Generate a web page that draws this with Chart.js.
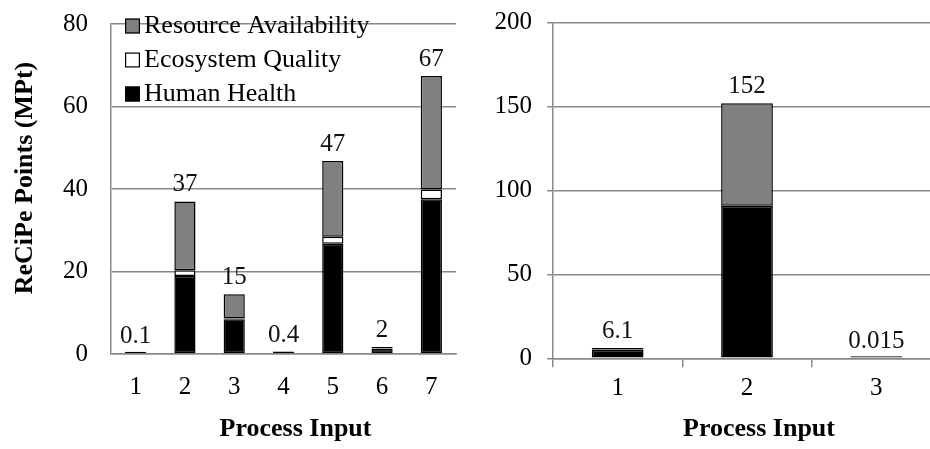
<!DOCTYPE html>
<html>
<head>
<meta charset="utf-8">
<script src="https://cdn.jsdelivr.net/npm/chart.js@4/dist/chart.umd.min.js"></script>
<style>
  html, body { margin: 0; padding: 0; background: #fff; overflow: hidden; width: 930px; height: 449px; }
  #left { position: absolute; left: 0; top: 0; }
  #right { position: absolute; left: 470px; top: 0; }
</style>
</head>
<body>
<canvas id="left" width="470" height="449"></canvas>
<canvas id="right" width="475" height="449"></canvas>
<script>
// ReCiPe endpoint scores (MPt) per process input
const leftCategories = ['1', '2', '3', '4', '5', '6', '7'];
const leftHumanHealth = [0.06, 18.9, 8.4, 0.3, 26.7, 1.3, 37.5];
const leftEcosystemQuality = [0.005, 1.4, 0.2, 0.02, 1.7, 0.1, 2.4];
const leftResourceAvailability = [0.035, 16.7, 5.9, 0.08, 18.4, 0.3, 27.5];
const leftTotalLabels = ['0.1', '37', '15', '0.4', '47', '2', '67'];
const leftTicks = [0, 20, 40, 60, 80];

const rightCategories = ['1', '2', '3'];
const rightHumanHealth = [5.0, 90.8, 0.01];
const rightEcosystemQuality = [0.2, 0.1, 0.001];
const rightResourceAvailability = [0.9, 61.1, 0.004];
const rightTotalLabels = ['6.1', '152', '0.015'];
const rightTicks = [0, 50, 100, 150, 200];

const FONT = "'Liberation Serif', 'Times New Roman', serif";
const GRID = '#8a8a8a';

function stackedSets(hh, eq, ra) {
  const base = { borderColor: '#000', borderWidth: 1.5, borderSkipped: false, stack: 'total' };
  return [
    { ...base, label: 'Human Health', data: hh, backgroundColor: '#000000', minBarLength: 2 },
    { ...base, label: 'Ecosystem Quality', data: eq, backgroundColor: '#ffffff' },
    { ...base, label: 'Resource Availability', data: ra, backgroundColor: '#808080' }
  ];
}

// total value printed above each stacked column
const totalsPlugin = {
  id: 'totals',
  afterDatasetsDraw(chart, args, opts) {
    const { ctx, scales: { x, y } } = chart;
    ctx.save();
    ctx.font = '25px ' + FONT;
    ctx.fillStyle = '#111';
    ctx.textAlign = 'center';
    ctx.textBaseline = 'middle';
    opts.labels.forEach((text, i) => {
      const sum = chart.data.datasets.reduce((s, d) => s + d.data[i], 0);
      ctx.fillText(text, x.getPixelForValue(i), y.getPixelForValue(sum) - 17);
    });
    ctx.restore();
  }
};

// boxed legend inside the plot, top series first
const boxLegend = {
  id: 'boxLegend',
  afterDraw(chart, args, opts) {
    const ctx = chart.ctx;
    const size = opts.box;
    ctx.save();
    ctx.font = '26px ' + FONT;
    ctx.textAlign = 'left';
    ctx.textBaseline = 'alphabetic';
    chart.data.datasets.slice().reverse().forEach((ds, k) => {
      const base = opts.y + k * opts.rowGap;
      const top = base + 1 - size;
      ctx.fillStyle = ds.backgroundColor;
      ctx.fillRect(opts.x, top, size, size);
      ctx.strokeStyle = '#000';
      ctx.lineWidth = 1.2;
      ctx.strokeRect(opts.x + 0.6, top + 0.6, size - 1.2, size - 1.2);
      ctx.fillStyle = '#000';
      ctx.fillText(ds.label, opts.x + size + 4, base);
    });
    ctx.restore();
  }
};

// bold axis titles, placed relative to the plot area
const axisTitles = {
  id: 'axisTitles',
  afterDraw(chart, args, opts) {
    const { ctx, chartArea: a } = chart;
    ctx.save();
    ctx.font = 'bold 26px ' + FONT;
    ctx.fillStyle = '#000';
    ctx.textAlign = 'center';
    ctx.textBaseline = 'middle';
    if (opts.x) {
      ctx.fillText(opts.x.text, (a.left + a.right) / 2 + opts.x.shift, opts.x.y);
    }
    if (opts.y) {
      ctx.translate(opts.y.x, (a.top + a.bottom) / 2 + opts.y.shift);
      ctx.rotate(-Math.PI / 2);
      ctx.fillText(opts.y.text, 0, 0);
    }
    ctx.restore();
  }
};

const tickFont = { family: FONT, size: 25 };

new Chart(document.getElementById('left'), {
  type: 'bar',
  data: { labels: leftCategories, datasets: stackedSets(leftHumanHealth, leftEcosystemQuality, leftResourceAvailability) },
  options: {
    responsive: false,
    animation: false,
    categoryPercentage: 1,
    barPercentage: 0.43,
    layout: { padding: { top: 24, right: 14, left: 0, bottom: 0 } },
    plugins: {
      legend: { display: false },
      tooltip: { enabled: false },
      totals: { labels: leftTotalLabels },
      boxLegend: { x: 125, y: 32.5, rowGap: 34, box: 15 },
      axisTitles: {
        x: { text: 'Process Input', shift: 12, y: 429 },
        y: { text: 'ReCiPe Points (MPt)', shift: -11, x: 25 }
      }
    },
    scales: {
      x: {
        stacked: true,
        grid: { display: true, drawOnChartArea: false, drawTicks: false, color: GRID },
        border: { display: true, color: GRID, width: 1.5 },
        ticks: { font: tickFont, color: '#000', padding: 18.5 },
        afterFit(s) { s.height = 95; }
      },
      y: {
        stacked: true,
        min: 0,
        max: 80,
        afterBuildTicks(s) { s.ticks = leftTicks.map(v => ({ value: v })); },
        grid: { color: GRID, lineWidth: 1.5, drawTicks: false },
        border: { display: true, color: GRID, width: 1.5 },
        ticks: { font: tickFont, color: '#000', padding: 23 },
        afterFit(s) { s.width = 111; s.paddingTop = 0; s.paddingBottom = 0; }
      }
    }
  },
  plugins: [totalsPlugin, boxLegend, axisTitles]
});

new Chart(document.getElementById('right'), {
  type: 'bar',
  data: { labels: rightCategories, datasets: stackedSets(rightHumanHealth, rightEcosystemQuality, rightResourceAvailability) },
  options: {
    responsive: false,
    animation: false,
    categoryPercentage: 1,
    barPercentage: 0.40,
    layout: { padding: { top: 22.7, right: 4, left: 0, bottom: 0 } },
    plugins: {
      legend: { display: false },
      tooltip: { enabled: false },
      totals: { labels: rightTotalLabels },
      axisTitles: {
        x: { text: 'Process Input', shift: 12, y: 429 }
      }
    },
    scales: {
      x: {
        stacked: true,
        grid: { display: true, drawOnChartArea: false, drawTicks: true, tickLength: 9, color: GRID, lineWidth: 1.5 },
        border: { display: true, color: GRID, width: 1.5 },
        ticks: { font: tickFont, color: '#000', padding: 6 },
        afterFit(s) { s.height = 90.7; }
      },
      y: {
        stacked: true,
        min: 0,
        max: 200,
        afterBuildTicks(s) { s.ticks = rightTicks.map(v => ({ value: v })); },
        grid: { color: GRID, lineWidth: 1.5, drawTicks: true, tickLength: 6 },
        border: { display: true, color: GRID, width: 1.5 },
        ticks: { font: tickFont, color: '#000', padding: 15 },
        afterFit(s) { s.width = 83; s.paddingTop = 0; s.paddingBottom = 0; }
      }
    }
  },
  plugins: [totalsPlugin, axisTitles]
});
</script>
</body>
</html>
